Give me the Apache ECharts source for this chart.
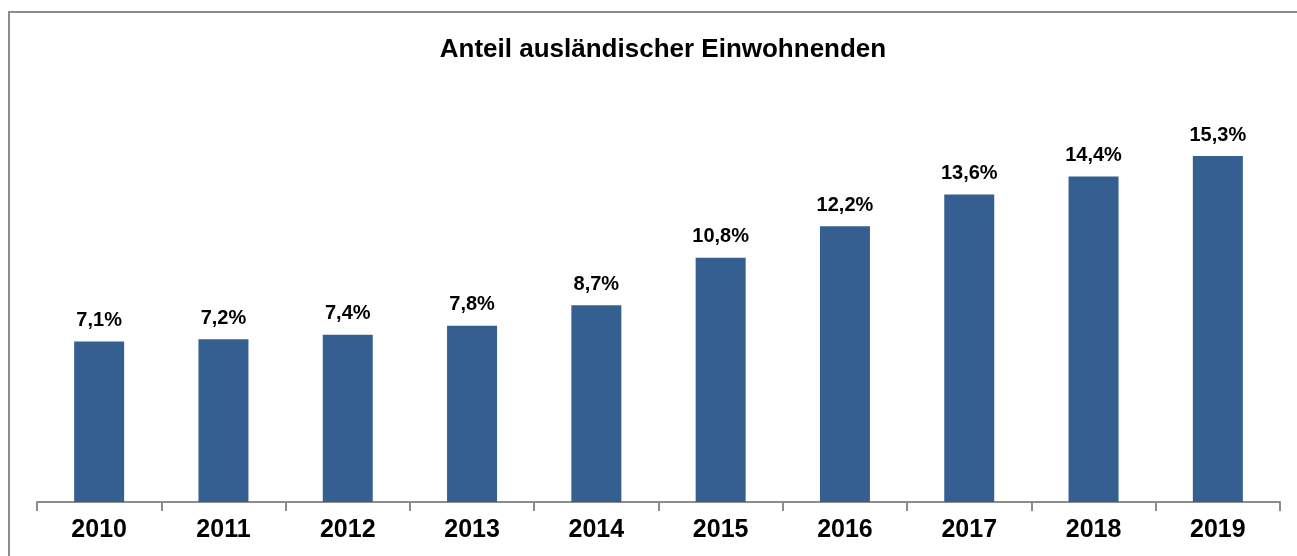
<!DOCTYPE html>
<html>
<head>
<meta charset="utf-8">
<script src="https://cdn.jsdelivr.net/npm/echarts@6/dist/echarts.min.js"></script>
<style>
    html, body { margin: 0; padding: 0; background: #fff; }
    #frame {
        position: absolute; left: 8px; top: 11px; right: 0; bottom: 0;
        border-top: 2px solid #8c8c8c; border-left: 2px solid #8c8c8c;
    }
    #chart { position: absolute; left: 0; top: 0; width: 1297px; height: 556px; }
</style>
</head>
<body>
<div id="frame"></div>
<div id="chart"></div>
<script>
    const years = ["2010", "2011", "2012", "2013", "2014", "2015", "2016", "2017", "2018", "2019"];
    const shares = [7.1, 7.2, 7.4, 7.8, 8.7, 10.8, 12.2, 13.6, 14.4, 15.3];

    const chart = echarts.init(document.getElementById("chart"));

    chart.setOption({
        animation: false,
        title: {
            text: "Anteil ausländischer Einwohnenden",
            left: 658,
            textAlign: "center",
            top: 32,
            textStyle: {
                fontFamily: "Liberation Sans, Arial, sans-serif",
                fontSize: 26,
                fontWeight: "bold",
                color: "#000"
            }
        },
        grid: {
            left: 37,
            right: 17,
            top: 95,
            bottom: 54,
            containLabel: false
        },
        xAxis: {
            type: "category",
            data: years,
            axisLine: { lineStyle: { color: "#8c8c8c", width: 2 } },
            axisTick: { show: true, length: 9, lineStyle: { color: "#8c8c8c", width: 2 } },
            axisLabel: {
                color: "#000",
                fontFamily: "Liberation Sans, Arial, sans-serif",
                fontSize: 25,
                fontWeight: "bold",
                margin: 16
            }
        },
        yAxis: {
            type: "value",
            min: 0,
            max: 18,
            show: false,
            splitLine: { show: false }
        },
        series: [
            {
                type: "bar",
                data: shares,
                barWidth: 50,
                itemStyle: { color: "#365f91" },
                label: {
                    show: true,
                    position: "top",
                    distance: 11,
                    color: "#000",
                    fontFamily: "Liberation Sans, Arial, sans-serif",
                    fontSize: 20,
                    fontWeight: "bold",
                    formatter: function (p) {
                        return p.value.toFixed(1).replace(".", ",") + "%";
                    }
                }
            }
        ]
    });

    window.addEventListener("resize", function () {
        chart.resize();
    });
</script>
</body>
</html>
